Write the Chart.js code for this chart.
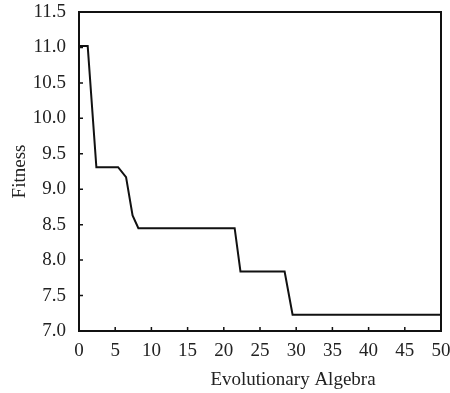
<!DOCTYPE html>
<html>
<head>
<meta charset="utf-8">
<script src="https://cdn.jsdelivr.net/npm/chart.js@4/dist/chart.umd.min.js"></script>
<style>
  html, body { margin: 0; padding: 0; background: #fff; }
  #wrap { width: 450px; height: 393px; position: relative; }
</style>
</head>
<body>
<div id="wrap"><canvas id="fitChart"></canvas></div>
<script>
// data
const generations = [0, 1.2, 2.4, 5.4, 6.5, 7.4, 8.2, 21.5, 22.3, 28.4, 29.5, 50];
const fitness = [11.02, 11.02, 9.31, 9.31, 9.17, 8.63, 8.45, 8.45, 7.84, 7.84, 7.23, 7.23];
const xTicks = [0, 5, 10, 15, 20, 25, 30, 35, 40, 45, 50];
const yTicks = [7.0, 7.5, 8.0, 8.5, 9.0, 9.5, 10.0, 10.5, 11.0, 11.5];

const serif = '"Liberation Serif", "Times New Roman", serif';

// box + short inward ticks + x title a bit right of centre
const framePlugin = {
    id: 'frame',
    afterDraw(chart) {
        const { ctx, chartArea: a, scales } = chart;
        ctx.save();
        ctx.strokeStyle = '#111';
        ctx.lineWidth = 2;
        ctx.strokeRect(a.left, a.top, a.right - a.left, a.bottom - a.top);

        ctx.lineWidth = 1.5;
        ctx.beginPath();
        xTicks.slice(1, -1).forEach(v => {
            const px = scales.x.getPixelForValue(v);
            ctx.moveTo(px, a.bottom);
            ctx.lineTo(px, a.bottom - 4);
        });
        yTicks.slice(1, -1).forEach(v => {
            const py = scales.y.getPixelForValue(v);
            ctx.moveTo(a.left, py);
            ctx.lineTo(a.left + 4, py);
        });
        ctx.stroke();

        ctx.fillStyle = '#222';
        ctx.font = '19px ' + serif;
        ctx.textAlign = 'center';
        ctx.textBaseline = 'middle';
        ctx.fillText('Evolutionary Algebra', 293, 380);
        ctx.restore();
    }
};

new Chart(document.getElementById('fitChart'), {
    type: 'line',
    data: {
        datasets: [{
            data: generations.map((g, i) => ({ x: g, y: fitness[i] })),
            borderColor: '#111',
            borderWidth: 2,
            pointRadius: 0,
            tension: 0,
            fill: false
        }]
    },
    options: {
        responsive: true,
        maintainAspectRatio: false,
        animation: false,
        layout: { padding: { top: 12, right: 9, left: 0, bottom: 0 } },
        plugins: {
            legend: { display: false },
            tooltip: { enabled: false }
        },
        scales: {
            x: {
                type: 'linear',
                min: 0,
                max: 50,
                afterBuildTicks: s => { s.ticks = xTicks.map(v => ({ value: v })); },
                afterFit: s => { s.height = 62; s.paddingLeft = 0; s.paddingRight = 0; },
                grid: { display: false, drawTicks: false },
                border: { display: false },
                ticks: {
                    color: '#222',
                    padding: 9,
                    maxRotation: 0,
                    font: { family: serif, size: 19 }
                }
            },
            y: {
                min: 7,
                max: 11.5,
                afterBuildTicks: s => { s.ticks = yTicks.map(v => ({ value: v })); },
                afterFit: s => { s.width = 79; s.paddingTop = 0; s.paddingBottom = 0; },
                grid: { display: false, drawTicks: false },
                border: { display: false },
                ticks: {
                    color: '#222',
                    padding: 13,
                    font: { family: serif, size: 19 },
                    callback: v => Number(v).toFixed(1)
                },
                title: {
                    display: true,
                    text: 'Fitness',
                    color: '#222',
                    padding: { top: 9, bottom: 0 },
                    font: { family: serif, size: 19 }
                }
            }
        }
    },
    plugins: [framePlugin]
});
</script>
</body>
</html>
